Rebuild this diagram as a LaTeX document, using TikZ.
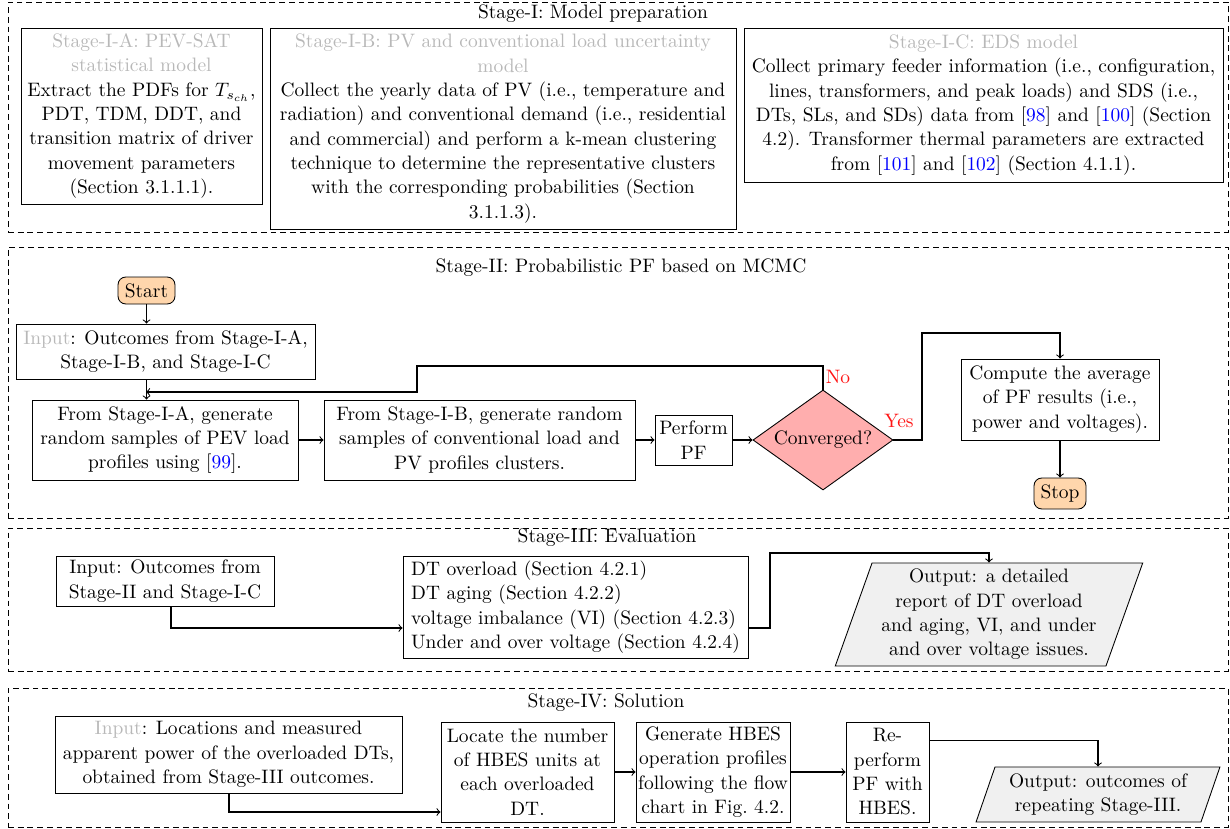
\documentclass[tikz,border=0pt]{standalone}
\usetikzlibrary{shapes.geometric,calc}
\definecolor{lbl}{gray}{0.72}
\definecolor{citec}{rgb}{0,0,1}
\definecolor{termfill}{RGB}{255,214,172}
\definecolor{decfill}{RGB}{255,174,174}
\definecolor{outfill}{gray}{0.94}
\definecolor{yesno}{RGB}{255,20,20}
\newcommand\hd[1]{\textcolor{lbl}{#1}}
\newcommand\cit[1]{[\textcolor{citec}{#1}]}
\tikzset{
  % place a node by its corner coordinates (x1,y1,x2,y2)
  px/.style n args={4}{minimum width={(#3-#1)*0.514pt}, minimum height={(#4-#2)*0.514pt},
    at={({(#1+#3)/2},{(#2+#4)/2})}},
  stagebox/.style={draw, line width=0.45pt, dash pattern=on 3pt off 2pt, inner sep=0pt},
  stagetitle/.style={inner sep=0pt},
  box/.style={draw, line width=0.45pt, align=center, inner sep=1pt},
  term/.style={box, rounded corners=4pt, fill=termfill},
  decision/.style={draw, line width=0.45pt, diamond, fill=decfill, aspect=1.39, inner sep=0pt},
  iobox/.style={draw, line width=0.45pt, trapezium, trapezium left angle=70, trapezium right angle=110,
    trapezium stretches=true, fill=outfill, align=center, inner sep=1pt},
  link/.style={draw, ->, line width=0.55pt},
  answer/.style={text=yesno, inner sep=0pt},
}
\begin{document}
\fontsize{10pt}{12.5pt}\selectfont
\begin{tikzpicture}[x=0.514pt, y=-0.514pt, every node/.append style={font=\fontsize{10pt}{12.5pt}\selectfont}]
\useasboundingbox (0,0) rectangle (1230,829);

% ---------------- Stage I ----------------
\node[stagebox, px={8}{2}{1228}{232}] (s1) {};
\node[stagetitle] (t1) at (593,14) {Stage-I: Model preparation};
\node[box, px={21}{28}{262}{204}] (sa) {\hd{Stage-I-A: PEV-SAT}\\\hd{statistical model}\\
  Extract the PDFs for $T_{s_{ch}}$,\\PDT, TDM, DDT, and\\transition matrix of driver\\movement parameters\\(Section 3.1.1.1).};
\node[box, px={270}{28}{736}{229}] (sb) {\hd{Stage-I-B: PV and conventional load uncertainty}\\\hd{model}\\
  Collect the yearly data of PV (i.e., temperature and\\radiation) and conventional demand (i.e., residential\\
  and commercial) and perform a k-mean clustering\\technique to determine the representative clusters\\
  with the corresponding probabilities (Section\\3.1.1.3).};
\node[box, px={744}{28}{1223}{182}] (sc) {\hd{Stage-I-C: EDS model}\\
  Collect primary feeder information (i.e., configuration,\\lines, transformers, and peak loads) and SDS (i.e.,\\
  DTs, SLs, and SDs) data from \cit{98} and \cit{100} (Section\\4.2). Transformer thermal parameters are extracted\\
  from \cit{101} and \cit{102} (Section 4.1.1).};

% ---------------- Stage II ----------------
\node[stagebox, px={8}{247}{1228}{518}] (s2) {};
\node[stagetitle] (t2) at (621,268) {Stage-II: Probabilistic PF based on MCMC};
\node[term, px={118}{277}{175}{304}] (start) {Start};
\node[box, px={16}{324}{315}{379}] (inp2) {\hd{Input}: Outcomes from Stage-I-A,\\Stage-I-B, and Stage-I-C};
\node[box, px={32}{400}{298}{480}] (gena) {From Stage-I-A, generate\\random samples of PEV load\\profiles using \cit{99}.};
\node[box, px={324}{400}{635}{480}] (genb) {From Stage-I-B, generate random\\samples of conventional load and\\PV profiles clusters.};
\node[box, px={655}{415}{732}{465}] (pf) {Perform\\PF};
\node[decision, px={753}{390}{893}{490}] (conv) {Converged?};
\node[box, px={961}{359}{1159}{440}] (comp) {Compute the average\\of PF results (i.e.,\\power and voltages).};
\node[term, px={1034}{478}{1086}{509}] (stop) {Stop};
\node[answer] (no) at (838,377) {No};
\node[answer] (yes) at (899,421) {Yes};

\coordinate (fbtop) at (417,366);
\coordinate (merge) at (146,392);
\coordinate (ybend) at (922,333);

\draw[link] (start) -- (start |- inp2.north);
\draw[link] (inp2.south -| start) -- (gena.north -| start);
\draw[link] (gena) -- (genb);
\draw[link] (genb) -- (pf);
\draw[link] (pf) -- (conv);
\draw[link] (conv.north) |- (fbtop) |- (merge);
\draw[link] (conv.east) -| (ybend) -| (comp.north);
\draw[link] (comp) -- (stop);

% ---------------- Stage III ----------------
\node[stagebox, px={8}{528}{1228}{671}] (s3) {};
\node[stagetitle] (t3) at (607,538) {Stage-III: Evaluation};
\node[box, px={56}{556}{274}{606}] (in3) {Input: Outcomes from\\Stage-II and Stage-I-C};
\node[box, align=left, px={403}{556}{748}{658}] (lst) {DT overload (Section 4.2.1)\\DT aging (Section 4.2.2)\\
  voltage imbalance (VI) (Section 4.2.3)\\Under and over voltage (Section 4.2.4)};
\node[iobox, px={835}{563}{1143}{666}] (out3) {Output: a detailed\\report of DT overload\\and aging, VI, and under\\and over voltage issues.};

\coordinate (lane3) at (171,628);
\coordinate (bend3) at (770,553);
\draw[link] (in3.south -| lane3) |- (lane3 -| lst.west);
\draw[link] (lst.east |- lane3) -| (bend3) -| (out3.north);

% ---------------- Stage IV ----------------
\node[stagebox, px={8}{688}{1228}{827}] (s4) {};
\node[stagetitle] (t4) at (606,703) {Stage-IV: Solution};
\node[box, px={55}{716}{402}{793}] (in4) {\hd{Input}: Locations and measured\\apparent power of the overloaded DTs,\\obtained from Stage-III outcomes.};
\node[box, px={441}{722}{614}{822}] (loc) {Locate the number\\of HBES units at\\each overloaded\\DT.};
\node[box, px={636}{722}{790}{822}] (gen) {Generate HBES\\operation profiles\\following the flow\\chart in Fig.~4.2.};
\node[box, px={846}{722}{929}{822}] (rp) {Re-\\perform\\PF with\\HBES.};
\node[iobox, px={976}{767}{1220}{822}] (out4) {Output: outcomes of\\repeating Stage-III.};

\coordinate (lane4) at (229,812);
\draw[link] (in4.south -| lane4) |- (lane4 -| loc.west);
\draw[link] (loc) -- (gen);
\draw[link] (gen) -- (rp);
\draw[link] ([yshift=-9.8pt]rp.north east) -| (out4.north);
\end{tikzpicture}
\end{document}
